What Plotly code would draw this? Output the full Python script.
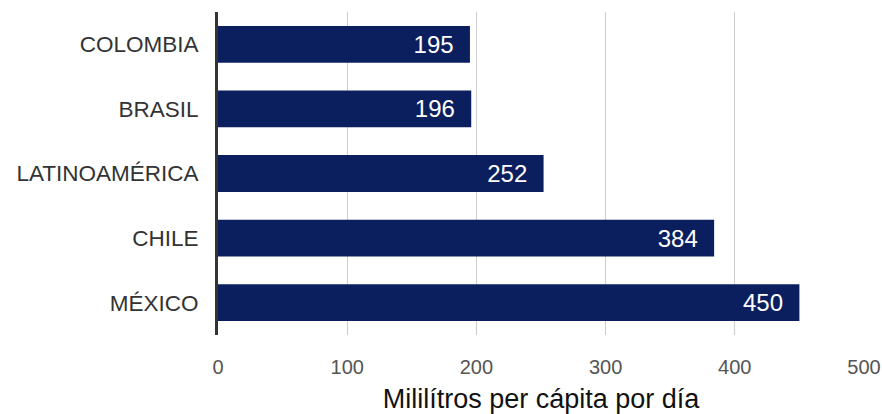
import plotly.graph_objects as go

categories = ["COLOMBIA", "BRASIL", "LATINOAMÉRICA", "CHILE", "MÉXICO"]
values = [195, 196, 252, 384, 450]
x_ticks = [0, 100, 200, 300, 400, 500]

FONT = "Liberation Sans, Arial, sans-serif"

fig = go.Figure(go.Bar(
    x=values, y=categories, orientation="h",
    marker=dict(color="#0b1f5e", line=dict(width=0)),
    text=[f"{v}\u00a0\u00a0" for v in values], textposition="inside", insidetextanchor="end",
    textfont=dict(color="white", size=24, family=FONT),
    width=0.57,
))

fig.update_layout(
    width=882, height=414,
    margin=dict(l=218, r=18, t=12, b=79, autoexpand=False),
    plot_bgcolor="white", paper_bgcolor="white",
    font=dict(family=FONT),
    showlegend=False,
    xaxis=dict(
        range=[0, 500], tickvals=x_ticks, showgrid=True, gridcolor="#cccccc", gridwidth=1.3,
        zeroline=False, showline=False, automargin=False,
        tickfont=dict(size=20, color="#555555"),
        ticks="outside", ticklen=14, tickcolor="rgba(0,0,0,0)",
        title=dict(text="Mililítros per cápita por día", font=dict(size=27, color="#111111"), standoff=14),
        fixedrange=True,
    ),
    yaxis=dict(
        categoryorder="array", categoryarray=categories[::-1],
        autorange=False, range=[-0.5, 4.5], automargin=False,
        showline=True, linecolor="#333333", linewidth=3,
        tickfont=dict(size=22.5, color="#333333"),
        ticks="outside", ticklen=12, tickcolor="rgba(0,0,0,0)",
        showgrid=False,
    ),
)

fig.write_html("out.html")
